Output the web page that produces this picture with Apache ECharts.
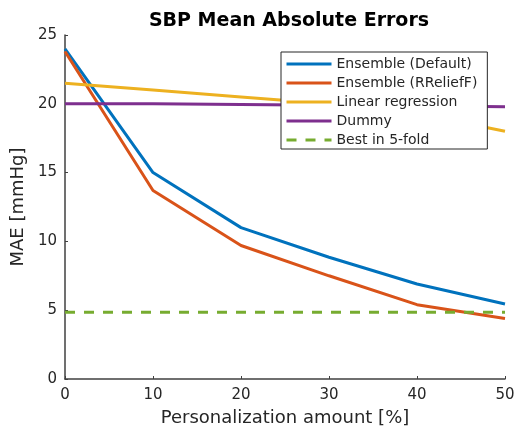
<!DOCTYPE html>
<html>
<head>
<meta charset="utf-8">
<script src="https://cdn.jsdelivr.net/npm/echarts@6/dist/echarts.min.js"></script>
<style>
    html, body { margin: 0; padding: 0; background: #fff; }
    #chart { width: 523px; height: 432px; }
</style>
</head>
<body>
<div id="chart"></div>
<script>
// personalization amount [%]
const amounts = [0, 10, 20, 30, 40, 50]
const ensembleDefault = [24.0, 15.0, 11.0, 8.85, 6.9, 5.45]
const ensembleRRelief = [23.8, 13.7, 9.7, 7.5, 5.4, 4.4]
const linearRegression = [21.5, 21.0, 20.5, 20.0, 19.3, 18.0]
const dummy = [20.0, 20.0, 19.95, 19.9, 19.85, 19.78]
const best5fold = [4.86, 4.86, 4.86, 4.86, 4.86, 4.86]

const names = ['Ensemble (Default)', 'Ensemble (RReliefF)', 'Linear regression', 'Dummy', 'Best in 5-fold']
const colors = ['#0072BD', '#D95319', '#EDB120', '#7E2F8E', '#77AC30']

function pairs(vals) {
    return amounts.map((x, i) => [x, vals[i]])
}

const allData = [ensembleDefault, ensembleRRelief, linearRegression, dummy, best5fold]
let seriesData = []
for (let i = 0; i < names.length; i++) {
    seriesData.push({
        name: names[i],
        type: 'line',
        symbol: 'none',
        smooth: false,
        z: 2,
        lineStyle: {
            color: colors[i],
            width: 3,
            type: i === 4 ? [10, 9] : 'solid'
        },
        itemStyle: { color: colors[i] },
        data: pairs(allData[i])
    })
}

const axisCol = '#404040'
const textCol = '#262626'

let option = {
    animation: false,
    backgroundColor: '#fff',
    textStyle: { fontFamily: 'DejaVu Sans' },
    title: {
        text: 'SBP Mean Absolute Errors',
        left: 284,
        textAlign: 'center',
        top: 7,
        textStyle: { fontSize: 19, fontWeight: 'bold', color: '#000', fontFamily: 'DejaVu Sans' }
    },
    legend: {
        data: names,
        orient: 'vertical',
        left: 281,
        top: 52,
        z: 50,
        padding: [5, 10, 2, 4],
        itemGap: 5,
        itemWidth: 45,
        itemHeight: 14,
        itemStyle: { opacity: 0 },
        lineStyle: { width: 3 },
        backgroundColor: '#fff',
        borderColor: textCol,
        borderWidth: 1,
        borderRadius: 0,
        textStyle: { fontSize: 14, color: textCol }
    },
    grid: {
        left: 65,
        right: 18,
        top: 35,
        bottom: 49
    },
    xAxis: {
        type: 'value',
        min: 0,
        max: 50,
        interval: 10,
        name: 'Personalization amount [%]',
        nameLocation: 'middle',
        nameGap: 30,
        nameTextStyle: { fontSize: 18, color: textCol },
        axisLine: { lineStyle: { color: axisCol, width: 1.5 } },
        axisTick: { inside: true, length: 3, lineStyle: { color: axisCol } },
        axisLabel: { fontSize: 15, color: textCol, margin: 9 },
        splitLine: { show: false }
    },
    yAxis: {
        type: 'value',
        min: 0,
        max: 25,
        interval: 5,
        name: 'MAE [mmHg]',
        nameLocation: 'middle',
        nameGap: 31,
        nameTextStyle: { fontSize: 18, color: textCol },
        axisLine: { show: true, lineStyle: { color: axisCol, width: 1.5 } },
        axisTick: { show: true, inside: true, length: 3, lineStyle: { color: axisCol } },
        axisLabel: { fontSize: 15, color: textCol, margin: 8 },
        splitLine: { show: false }
    },
    series: seriesData
}

let chart = echarts.init(document.getElementById('chart'))
chart.setOption(option, true)
</script>
</body>
</html>
